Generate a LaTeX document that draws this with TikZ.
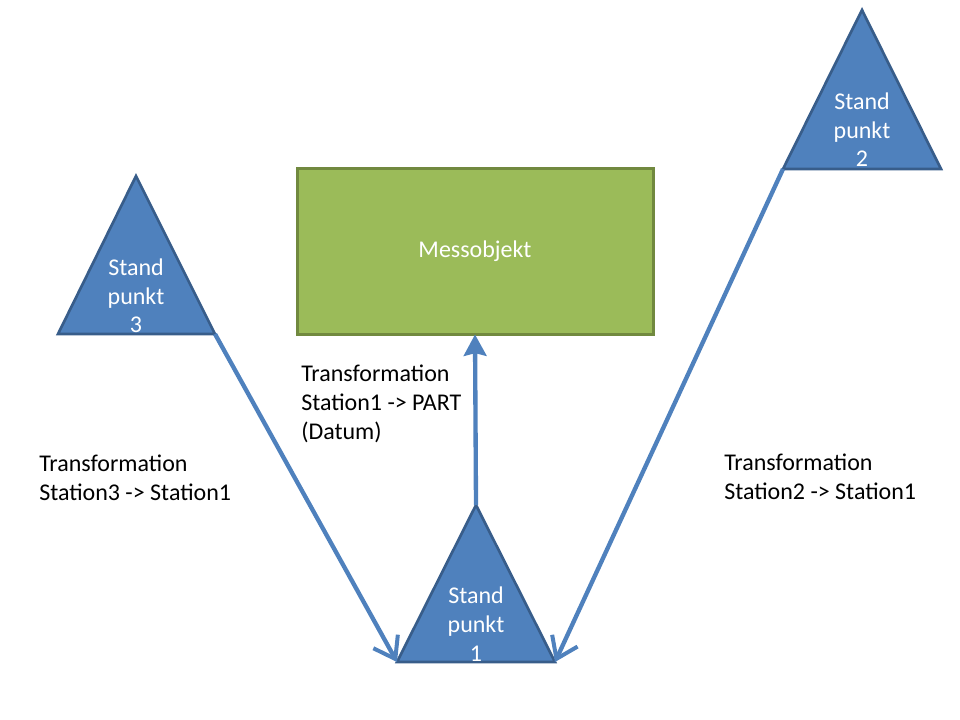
\documentclass[tikz,border=0pt]{standalone}
\usepackage{fontspec}
\setmainfont{Carlito}
\usepackage{xcolor}
\usepackage{tikz}
\usetikzlibrary{arrows.meta, positioning}
\definecolor{standblue}{HTML}{4F81BD}
\definecolor{standedge}{HTML}{385D8A}
\definecolor{objgreen}{HTML}{9BBB59}
\definecolor{objedge}{HTML}{71893F}

\begin{document}
\begin{tikzpicture}[x=0.75pt, y=-0.75pt]
\tikzstyle{station} = [fill=standblue, draw=standedge, line width=2pt]
\tikzstyle{stationtext} = [text=white, align=center, inner sep=0pt, font=\fontsize{18}{21.5}\selectfont]
\tikzstyle{trafotext} = [align=left, inner sep=0pt, anchor=west, font=\fontsize{18}{21.5}\selectfont]
\tikzstyle{trafo} = [draw=standblue, line width=3.25pt, -{Straight Barb[length=15pt, width=21pt, line width=3pt]}]

\useasboundingbox (0,0) rectangle (960,720);

\coordinate (s1top) at (476,505);
\coordinate (s1left) at (397,662);
\coordinate (s1right) at (555,662);
\coordinate (s2top) at (862,10);
\coordinate (s2left) at (783,169);
\coordinate (s2right) at (941,169);
\coordinate (s3top) at (136,176);
\coordinate (s3left) at (58,334);
\coordinate (s3right) at (215,334);

\filldraw[station] (s1top) -- (s1left) -- (s1right) -- cycle;
\filldraw[station] (s2top) -- (s2left) -- (s2right) -- cycle;
\filldraw[station] (s3top) -- (s3left) -- (s3right) -- cycle;

\node (s1) [stationtext] at (476,624) {Stand\\punkt\\1};
\node (s2) [stationtext] at (862,130) {Stand\\punkt\\2};
\node (s3) [stationtext] at (136,296) {Stand\\punkt\\3};

\node (mess) [draw=objedge, fill=objgreen, line width=2.25pt, minimum width=267pt, minimum height=123.75pt, text=white, font=\fontsize{18}{21.5}\selectfont] at (475,251.5) {\raisebox{-1.5pt}{Messobjekt}};

\draw[trafo] (s3right) -- (s1left);
\draw[trafo] (s2left) -- (s1right);
\draw[trafo, -{Stealth[length=16pt, width=17pt, inset=2pt]}] (s1top) -- ([yshift=0.75pt]mess.south);

\node (t1) [trafotext] at (301,404) {Transformation\\Station1 -> PART\\(Datum)};
\node (t3) [trafotext] at (39,478) {Transformation\\Station3 -> Station1};
\node (t2) [trafotext] at (724,477) {Transformation\\Station2 -> Station1};

\end{tikzpicture}
\end{document}
